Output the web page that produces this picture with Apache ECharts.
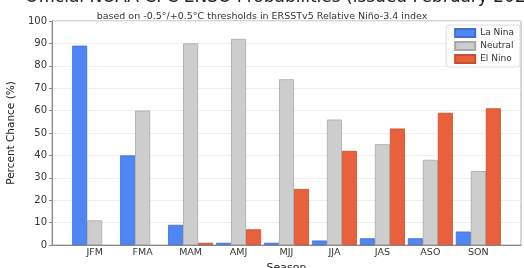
<!DOCTYPE html>
<html><head><meta charset="utf-8">
<script src="https://cdn.jsdelivr.net/npm/echarts@6/dist/echarts.min.js"></script>
<style>html,body{margin:0;padding:0;background:#fff}#c{width:524px;height:268px}</style>
</head><body><div id="c"></div>
<script>
const seasons = ['JFM','FMA','MAM','AMJ','MJJ','JJA','JAS','ASO','SON'];
const laNina  = [89, 40, 9, 1, 1, 2, 3, 3, 6];
const neutral = [11, 60, 90, 92, 74, 56, 45, 38, 33];
const elNino  = [0, 0, 1, 7, 25, 42, 52, 59, 61];
const yTicks  = [0,10,20,30,40,50,60,70,80,90,100];

const font = 'DejaVu Sans';
const chart = echarts.init(document.getElementById('c'), null, {renderer:'canvas'});
const mk = (name, arr, color, border) => ({
  name, type:'bar', barWidth:15, barGap:'0%',
  data: arr.map((v,i)=>[i, v === 0 ? null : v]),
  itemStyle:{color, borderColor:border, borderWidth:0.8},
  emphasis:{disabled:true}
});
chart.setOption({
  animation:false,
  textStyle:{fontFamily:font},
  title:[
    {text:'Official NOAA CPC ENSO Probabilities (issued February 2025)', left:20, top:-16,
     textStyle:{fontSize:17, fontWeight:'normal', color:'#222', fontFamily:font}},
    {text:'based on -0.5°/+0.5°C thresholds in ERSSTv5 Relative Niño-3.4 index', left:'center', top:7,
     textStyle:{fontSize:9.5, fontWeight:'normal', color:'#333', fontFamily:font}}
  ],
  legend:{
    orient:'vertical', right:4, top:25, itemWidth:20, itemHeight:8, itemGap:3,
    padding:[3,6,3,8], backgroundColor:'#fff', borderColor:'#ddd', borderWidth:1, borderRadius:3,
    textStyle:{fontSize:9, color:'#333', fontFamily:font},
    data:['La Nina','Neutral','El Nino'], icon:'rect'
  },
  grid:{left:52, right:3, top:21, bottom:23, outerBoundsMode:'none', containLabel:false,
        show:true, borderColor:'#aaa', borderWidth:1},
  xAxis:{
    type:'value', min:-0.89, max:8.89,
    splitLine:{show:false}, axisTick:{show:false},
    axisLine:{show:true, onZero:false, lineStyle:{color:'#888'}},
    axisLabel:{customValues:[0,1,2,3,4,5,6,7,8], formatter:v=>seasons[Math.round(v)] || '',
      fontSize:9.5, color:'#333', margin:3},
    name:'Season', nameLocation:'middle', nameGap:11,
    nameTextStyle:{fontSize:11, color:'#222'}
  },
  yAxis:{
    type:'value', min:0, max:100, interval:10,
    axisLine:{show:true, onZero:false, lineStyle:{color:'#888'}},
    axisTick:{show:true, length:3, lineStyle:{color:'#888'}},
    splitLine:{show:true, lineStyle:{color:'#eee'}},
    axisLabel:{customValues:yTicks, fontSize:10, color:'#333', margin:5},
    name:'Percent Chance (%)', nameLocation:'middle', nameGap:28,
    nameTextStyle:{fontSize:10.5, color:'#222'}
  },
  series:[
    mk('La Nina', laNina, '#4f86f3', '#3f6fd0'),
    mk('Neutral', neutral, '#cdcdcd', '#a8a8a8'),
    mk('El Nino', elNino, '#e9603d', '#c84e30')
  ]
});
</script></body></html>
